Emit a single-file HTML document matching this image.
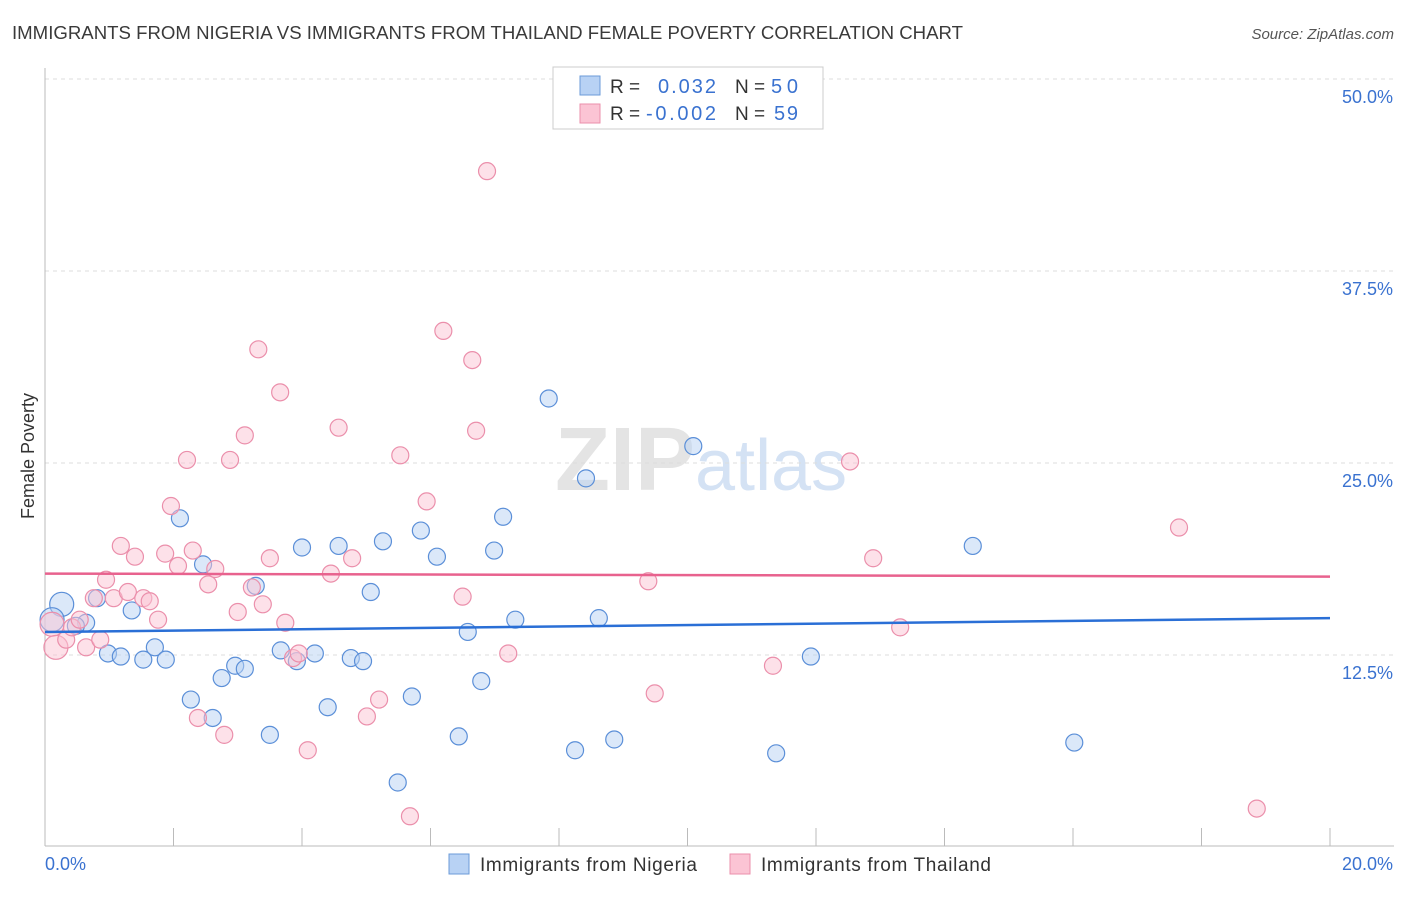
<!DOCTYPE html>
<html><head><meta charset="utf-8"><style>
body{margin:0;background:#fff;width:1406px;height:892px;overflow:hidden;font-family:"Liberation Sans",sans-serif}
svg text{font-family:"Liberation Sans",sans-serif}
</style></head><body>
<svg id="chart" width="1406" height="892" xmlns="http://www.w3.org/2000/svg">
<text x="12" y="39" font-size="18" fill="#3a3a3a" textLength="951" lengthAdjust="spacingAndGlyphs">IMMIGRANTS FROM NIGERIA VS IMMIGRANTS FROM THAILAND FEMALE POVERTY CORRELATION CHART</text>
<text x="1394" y="39" font-size="15" fill="#555" font-style="italic" text-anchor="end">Source: ZipAtlas.com</text>
<text x="555" y="490" font-size="90" fill="#e4e4e4" font-family="Liberation Serif" font-weight="bold">ZIP<tspan fill="#d4e2f4" font-family="Liberation Sans" font-weight="normal" font-size="72">atlas</tspan></text>
<text transform="translate(34,456) rotate(-90)" font-size="18" fill="#333" text-anchor="middle">Female Poverty</text>
<g id="grid"></g><g id="pts"></g><g id="trend"></g>
<g>
<rect x="553" y="67" width="270" height="62" fill="#fff" stroke="#ccc"/>
<rect x="580" y="76" width="20" height="19" fill="#b8d2f4" stroke="#6b9bd8"/>
<rect x="580" y="104" width="20" height="19" fill="#fbc4d4" stroke="#eb8fab"/>
<text x="610" y="93" font-size="19" fill="#333">R =</text><text x="658" y="93" font-size="20" fill="#3a72d0" textLength="58">0.032</text>
<text x="735" y="93" font-size="19" fill="#333">N =</text><text x="771" y="93" font-size="20" fill="#3a72d0" textLength="27">50</text>
<text x="610" y="120" font-size="19" fill="#333">R =</text><text x="646" y="120" font-size="20" fill="#3a72d0" textLength="70">-0.002</text>
<text x="735" y="120" font-size="19" fill="#333">N =</text><text x="774" y="120" font-size="20" fill="#3a72d0" textLength="24">59</text>
</g>
<g>
<rect x="449" y="854" width="20" height="20" fill="#b8d2f4" stroke="#6b9bd8"/>
<text x="480" y="871" font-size="19" fill="#333" textLength="217">Immigrants from Nigeria</text>
<rect x="730" y="854" width="20" height="20" fill="#fbc4d4" stroke="#eb8fab"/>
<text x="761" y="871" font-size="19" fill="#333" textLength="230">Immigrants from Thailand</text>
</g>
</svg>
<script>
const yTicks=[12.5,25,37.5,50];
const yTickLabels=["12.5%","25.0%","37.5%","50.0%"];
const xTicks=[0,2,4,6,8,10,12,14,16,18,20];
const nigeriaX=[0.26,0.11,0.64,0.48,0.81,0.98,1.18,1.35,1.53,1.71,1.88,2.10,2.27,2.46,2.61,2.75,2.96,3.11,3.28,3.50,3.67,3.92,4.00,4.20,4.40,4.57,4.76,4.95,5.07,5.26,5.49,5.71,5.85,6.10,6.44,6.58,6.79,6.99,7.13,7.32,7.84,8.25,8.42,8.62,8.86,10.09,11.38,11.92,14.44,16.02];
const nigeriaY=[15.8,14.8,14.6,14.4,16.2,12.6,12.4,15.4,12.2,13.0,12.2,21.4,9.6,18.4,8.4,11.0,11.8,11.6,17.0,7.3,12.8,12.1,19.5,12.6,9.1,19.6,12.3,12.1,16.6,19.9,4.2,9.8,20.6,18.9,7.2,14.0,10.8,19.3,21.5,14.8,29.2,6.3,24.0,14.9,7.0,26.1,6.1,12.4,19.6,6.8];
const thaiX=[0.11,0.17,0.33,0.42,0.54,0.64,0.76,0.86,0.95,1.07,1.18,1.29,1.40,1.53,1.63,1.76,1.87,1.96,2.07,2.21,2.30,2.38,2.54,2.65,2.79,2.88,3.00,3.11,3.22,3.32,3.39,3.50,3.66,3.74,3.86,3.95,4.09,4.45,4.57,4.78,5.01,5.20,5.53,5.68,5.94,6.20,6.50,6.65,6.71,6.88,7.21,9.39,9.49,11.33,12.53,12.89,13.31,17.65,18.86];
const thaiY=[14.5,13.0,13.5,14.3,14.8,13.0,16.2,13.5,17.4,16.2,19.6,16.6,18.9,16.2,16.0,14.8,19.1,22.2,18.3,25.2,19.3,8.4,17.1,18.1,7.3,25.2,15.3,26.8,16.9,32.4,15.8,18.8,29.6,14.6,12.3,12.6,6.3,17.8,27.3,18.8,8.5,9.6,25.5,2.0,22.5,33.6,16.3,31.7,27.1,44.0,12.6,17.3,10.0,11.8,25.1,18.8,14.3,20.8,2.5];
const nigeriaTrend=[14.0,14.9];
const thaiTrend=[17.8,17.6];
const NS="http://www.w3.org/2000/svg";
const X0=45,X1=1330,Y0=847,Y50=79;
function sx(v){return X0+(X1-X0)*v/20;}
function sy(v){return Y0-(Y0-Y50)*v/50;}
function mk(t,a,p){const e=document.createElementNS(NS,t);for(const k in a)e.setAttribute(k,a[k]);p.appendChild(e);return e;}
const grid=document.getElementById('grid');
yTicks.forEach((t,i)=>{
 const l=mk('line',{x1:X0,x2:1394,y1:sy(t),y2:sy(t),stroke:'#ddd','stroke-dasharray':'4,4'},grid);
 
 
 const tx=mk('text',{x:1393,y:sy(t)+24,'font-size':18,fill:'#3a72d0','text-anchor':'end'},grid);
 tx.textContent=yTickLabels[i];
 
 
});
const ax=mk('line',{x1:X0,x2:X0,y1:68,y2:846,stroke:'#bbb'},grid);


const bx=mk('line',{x1:X0,x2:1394,y1:846,y2:846,stroke:'#bbb'},grid);


xTicks.forEach(t=>{
 const l=mk('line',{x1:sx(t),x2:sx(t),y1:828,y2:846,stroke:'#bbb'},grid);
 
 
});
const xl0=mk('text',{x:45,y:870,'font-size':18,fill:'#3a72d0'},grid);xl0.textContent='0.0%';


const xl1=mk('text',{x:1393,y:870,'font-size':18,fill:'#3a72d0','text-anchor':'end'},grid);xl1.textContent='20.0%';


const pts=document.getElementById('pts');
function series(xs,ys,fill,stroke,name){
 xs.forEach((x,i)=>{
  const r=i<2?12:8.5;
  const c=mk('circle',{cx:sx(x),cy:sy(ys[i]),r:r,fill:fill,'fill-opacity':0.5,stroke:stroke,'stroke-width':1.2},pts);
  
  
 });
}
series(nigeriaX,nigeriaY,'#b8d2f4','#5b8fd8','nigeria-point');
series(thaiX,thaiY,'#fbc4d4','#eb8fab','thailand-point');
const tr=document.getElementById('trend');
const t1=mk('line',{x1:sx(0),x2:sx(20),y1:sy(nigeriaTrend[0]),y2:sy(nigeriaTrend[1]),stroke:'#2a6fd6','stroke-width':2.5},tr);


const t2=mk('line',{x1:sx(0),x2:sx(20),y1:sy(thaiTrend[0]),y2:sy(thaiTrend[1]),stroke:'#e8628e','stroke-width':2.5},tr);


</script>
</body></html>
